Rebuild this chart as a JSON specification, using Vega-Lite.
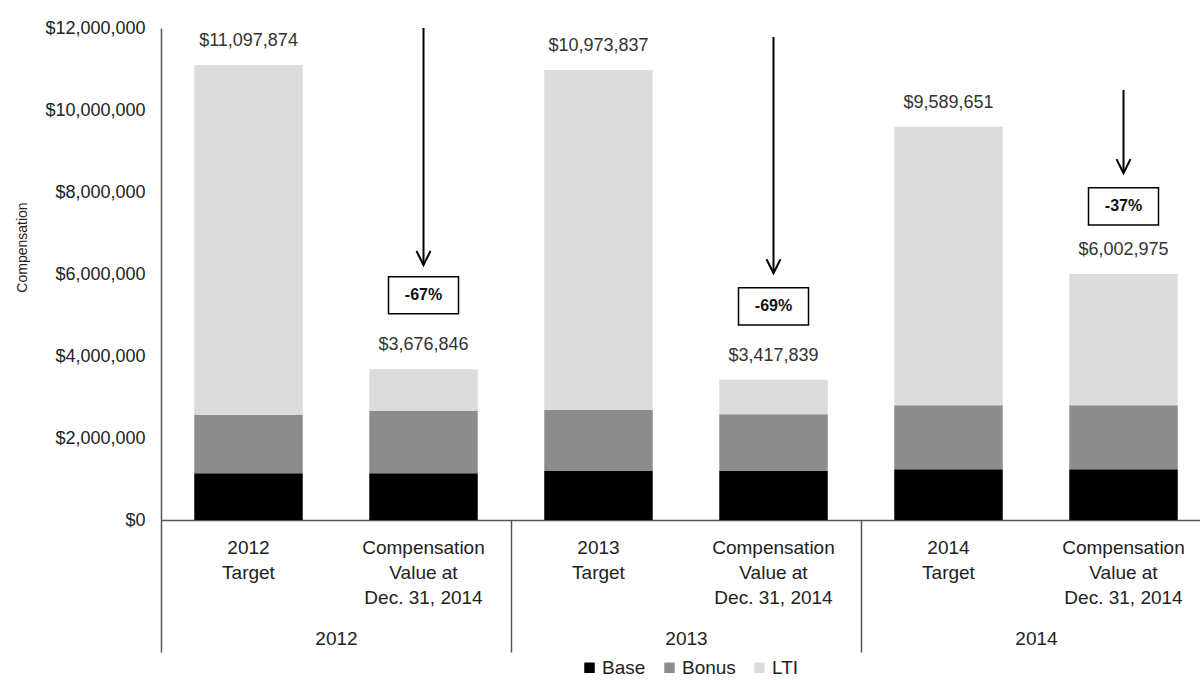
{
  "$schema": "https://vega.github.io/schema/vega-lite/v6.json",
  "width": 1039,
  "height": 492,
  "autosize": {"type": "none"},
  "padding": {"left": 161, "top": 28, "right": 0, "bottom": 160},
  "config": {"view": {"stroke": null}, "font": "Liberation Sans", "axis": {"grid": false}},
  "datasets": {
    "comp": [
      {"bar": "2012 Target", "component": "Base", "value": 1140000},
      {"bar": "2012 Target", "component": "Bonus", "value": 1420000},
      {"bar": "2012 Target", "component": "LTI", "value": 8537874},
      {"bar": "2012 Comp", "component": "Base", "value": 1140000},
      {"bar": "2012 Comp", "component": "Bonus", "value": 1520000},
      {"bar": "2012 Comp", "component": "LTI", "value": 1016846},
      {"bar": "2013 Target", "component": "Base", "value": 1195000},
      {"bar": "2013 Target", "component": "Bonus", "value": 1485000},
      {"bar": "2013 Target", "component": "LTI", "value": 8293837},
      {"bar": "2013 Comp", "component": "Base", "value": 1195000},
      {"bar": "2013 Comp", "component": "Bonus", "value": 1385000},
      {"bar": "2013 Comp", "component": "LTI", "value": 837839},
      {"bar": "2014 Target", "component": "Base", "value": 1240000},
      {"bar": "2014 Target", "component": "Bonus", "value": 1560000},
      {"bar": "2014 Target", "component": "LTI", "value": 6789651},
      {"bar": "2014 Comp", "component": "Base", "value": 1240000},
      {"bar": "2014 Comp", "component": "Bonus", "value": 1560000},
      {"bar": "2014 Comp", "component": "LTI", "value": 3202975}
    ],
    "totals": [
      {"bar": "2012 Target", "total": 11097874},
      {"bar": "2012 Comp", "total": 3676846},
      {"bar": "2013 Target", "total": 10973837},
      {"bar": "2013 Comp", "total": 3417839},
      {"bar": "2014 Target", "total": 9589651},
      {"bar": "2014 Comp", "total": 6002975}
    ],
    "notes": [
      {"bar": "2012 Comp", "top": 12000000, "tip": 6220000, "box": 5480000, "pct": "-67%"},
      {"bar": "2013 Comp", "top": 11780000, "tip": 6020000, "box": 5210000, "pct": "-69%"},
      {"bar": "2014 Comp", "top": 10490000, "tip": 8460000, "box": 7650000, "pct": "-37%"}
    ],
    "groups": [{"group": "2012"}, {"group": "2013"}, {"group": "2014"}]
  },
  "layer": [
    {
      "layer": [
        {
          "data": {"name": "comp"},
          "mark": {"type": "bar"},
          "encoding": {
            "x": {
              "field": "bar", "type": "nominal", "sort": null, "title": null,
              "scale": {"domain": ["2012 Target", "2012 Comp", "2013 Target", "2013 Comp", "2014 Target", "2014 Comp"], "range": [0, 1050], "paddingInner": 0.38, "paddingOuter": 0.19},
              "axis": {
                "orient": "bottom", "domain": true, "domainColor": "#555555", "domainWidth": 1.5,
                "ticks": false, "labelAngle": 0, "labelFontSize": 19, "labelColor": "#222222",
                "labelPadding": 18, "labelLineHeight": 25, "labelOverlap": false, "labelBaseline": "top",
                "labelExpr": "indexof(datum.value, 'Target') > 0 ? [substring(datum.value, 0, 4), 'Target'] : ['Compensation', 'Value at', 'Dec. 31, 2014']"
              }
            },
            "y": {
              "field": "value", "type": "quantitative", "stack": "zero", "title": "Compensation",
              "scale": {"domain": [0, 12000000], "nice": false},
              "axis": {
                "values": [0, 2000000, 4000000, 6000000, 8000000, 10000000, 12000000],
                "format": "$,.0f", "ticks": false, "labelPadding": 16, "labelFontSize": 18, "labelColor": "#222222",
                "domainColor": "#555555", "domainWidth": 1.5,
                "titleFontSize": 14, "titleFontWeight": "normal", "titleColor": "#222222",
                "titleX": -139, "titleY": 219, "titleAngle": -90, "titleAlign": "center", "titleBaseline": "middle"
              }
            },
            "color": {
              "field": "component", "type": "nominal",
              "scale": {"domain": ["Base", "Bonus", "LTI"], "range": ["#000000", "#8c8c8c", "#dcdcdc"]},
              "legend": {
                "orient": "none", "legendX": 419, "legendY": 630, "direction": "horizontal", "title": null,
                "symbolType": "square", "symbolSize": 110, "labelFontSize": 19, "labelColor": "#222222",
                "columnPadding": 14, "symbolStrokeWidth": 0, "labelOffset": 3
              }
            },
            "order": {"field": "component", "type": "nominal", "sort": "ascending"}
          }
        },
        {
          "data": {"name": "totals"},
          "mark": {"type": "text", "dy": -24, "fontSize": 18, "color": "#333333", "baseline": "middle"},
          "encoding": {
            "x": {"field": "bar", "type": "nominal", "sort": null, "title": null},
            "y": {"field": "total", "type": "quantitative", "title": "Compensation"},
            "text": {"field": "total", "type": "quantitative", "format": "$,.0f"}
          }
        },
        {
          "data": {"name": "notes"},
          "mark": {"type": "rule", "color": "#000000", "strokeWidth": 2},
          "encoding": {
            "x": {"field": "bar", "type": "nominal", "sort": null, "title": null},
            "y": {"field": "top", "type": "quantitative", "title": "Compensation"},
            "y2": {"field": "tip"}
          }
        },
        {
          "data": {"name": "notes"},
          "mark": {"type": "point", "shape": "M-1,-2L0,0L1,-2", "filled": false, "stroke": "#000000", "strokeWidth": 2, "size": 196, "opacity": 1},
          "encoding": {
            "x": {"field": "bar", "type": "nominal", "sort": null, "title": null},
            "y": {"field": "tip", "type": "quantitative", "title": "Compensation"}
          }
        },
        {
          "data": {"name": "notes"},
          "mark": {"type": "point", "shape": "M-1,-0.53L1,-0.53L1,0.53L-1,0.53Z", "filled": true, "fill": "#ffffff", "stroke": "#000000", "strokeWidth": 1.5, "size": 4900, "opacity": 1},
          "encoding": {
            "x": {"field": "bar", "type": "nominal", "sort": null, "title": null},
            "y": {"field": "box", "type": "quantitative", "title": "Compensation"}
          }
        },
        {
          "data": {"name": "notes"},
          "mark": {"type": "text", "fontSize": 16, "fontWeight": "bold", "color": "#111111", "baseline": "middle"},
          "encoding": {
            "x": {"field": "bar", "type": "nominal", "sort": null, "title": null},
            "y": {"field": "box", "type": "quantitative", "title": "Compensation"},
            "text": {"field": "pct"}
          }
        }
      ]
    },
    {
      "data": {"name": "groups"},
      "mark": {"type": "text", "text": ""},
      "encoding": {
        "x": {
          "field": "group", "type": "nominal", "title": null,
          "scale": {"type": "band", "domain": ["2012", "2013", "2014"], "range": [0, 1050], "paddingInner": 0, "paddingOuter": 0},
          "axis": {
            "orient": "bottom", "domain": false, "ticks": true, "tickBand": "extent", "tickSize": 132,
            "tickColor": "#555555", "tickWidth": 1.5, "labelAngle": 0, "labelFontSize": 19, "labelColor": "#222222",
            "labelPadding": -23, "labelOverlap": false
          }
        }
      }
    }
  ],
  "resolve": {"scale": {"x": "independent"}, "axis": {"x": "independent"}}
}
